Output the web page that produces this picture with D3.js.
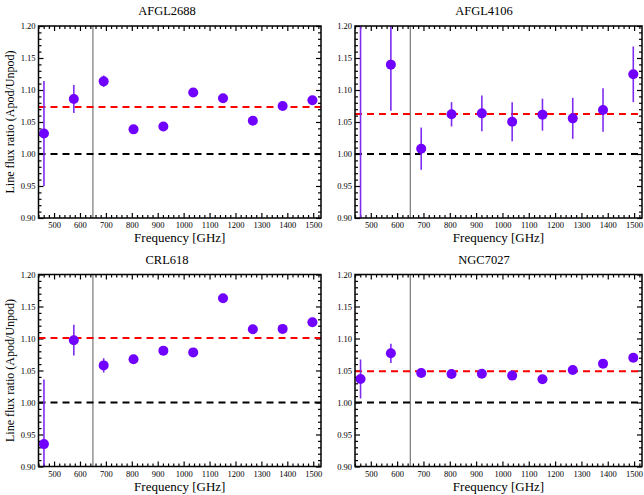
<!DOCTYPE html>
<html>
<head>
<meta charset="utf-8">
<script src="https://cdn.jsdelivr.net/npm/d3@7"></script>
<style>
  html, body { margin: 0; padding: 0; background: #fff; }
  svg { display: block; }
  text { font-family: "Liberation Serif", "Times New Roman", serif; fill: #000; }
</style>
</head>
<body>
<svg id="chart" width="644" height="495"></svg>
<script>
// ---- Data ----
const freqs = [461.04, 576.27, 691.47, 806.65, 921.80, 1036.91, 1151.99, 1267.01, 1381.99, 1496.92];
const sources = ["AFGL2688", "AFGL4106", "CRL618", "NGC7027"];

const afgl2688 = [1.032, 1.086, 1.1135, 1.0385, 1.043, 1.096, 1.087, 1.052, 1.075, 1.084];
const afgl2688Err = [0.082, 0.022, 0.009, 0.003, 0.003, 0.003, 0.003, 0.003, 0.003, 0.003];

const afgl4106 = [0.85, 1.1396, 1.0083, 1.062, 1.0635, 1.0505, 1.0615, 1.0557, 1.0688, 1.1245];
const afgl4106Err = [0.40, 0.072, 0.033, 0.019, 0.028, 0.0305, 0.025, 0.032, 0.034, 0.0435];

const crl618 = [0.935, 1.0973, 1.058, 1.0675, 1.081, 1.0783, 1.163, 1.1144, 1.115, 1.1254];
const crl618Err = [0.101, 0.024, 0.011, 0.003, 0.007, 0.003, 0.003, 0.003, 0.003, 0.003];

const ngc7027 = [1.0367, 1.0769, 1.0461, 1.0446, 1.045, 1.042, 1.0363, 1.0508, 1.0607, 1.070];
const ngc7027Err = [0.0305, 0.015, 0.003, 0.003, 0.003, 0.003, 0.003, 0.003, 0.003, 0.003];

const meanRatios = [1.0734, 1.0625, 1.1008, 1.0487];
const unityLine = 1.0;
const cutFreq = 650;

const xDomain = [440, 1530];
const yDomain = [0.90, 1.20];
const xTickValues = [500, 600, 700, 800, 900, 1000, 1100, 1200, 1300, 1400, 1500];
const yTickValues = [0.90, 0.95, 1.00, 1.05, 1.10, 1.15, 1.20];

const xLabel = "Frequency [GHz]";
const yLabel = "Line flux ratio (Apod/Unpod)";

// ---- Layout ----
const values = [afgl2688, afgl4106, crl618, ngc7027];
const errors = [afgl2688Err, afgl4106Err, crl618Err, ngc7027Err];
const panels = [
  { x0: 38.5, x1: 321, y0: 26, y1: 218, titleX: 167, ylab: true },
  { x0: 355, x1: 642, y0: 26, y1: 218, titleX: 484, ylab: false },
  { x0: 38.5, x1: 321, y0: 274.5, y1: 466.5, titleX: 167, ylab: true },
  { x0: 355, x1: 642, y0: 274.5, y1: 466.5, titleX: 484, ylab: false }
];

const svg = d3.select("#chart");
const markerColor = "#7000ff";
const errColor = "#7d2cf0";

panels.forEach((p, i) => {
  const x = d3.scaleLinear().domain(xDomain).range([p.x0, p.x1]);
  const y = d3.scaleLinear().domain(yDomain).range([p.y1, p.y0]);
  const g = svg.append("g");
  const clipId = "clip" + i;
  svg.append("clipPath").attr("id", clipId)
    .append("rect").attr("x", p.x0).attr("y", p.y0)
    .attr("width", p.x1 - p.x0).attr("height", p.y1 - p.y0);

  const minorX = d3.range(440, 1531, 20).filter(v => v % 100 !== 0);
  const minorY = d3.range(90, 121, 1).map(v => v / 100).filter(v => Math.round(v * 100) % 5 !== 0);

  const mk = (axisFn, scale, vals, size, fmt) => axisFn(scale).tickValues(vals).tickSizeInner(size).tickSizeOuter(0).tickFormat(fmt);
  const noLab = () => "";

  const gb = g.append("g").attr("transform", `translate(0,${p.y1})`);
  gb.call(mk(d3.axisBottom, x, xTickValues, -5, d3.format("d")).tickPadding(4));
  gb.append("g").call(mk(d3.axisBottom, x, minorX, -3, noLab));
  const gt = g.append("g").attr("transform", `translate(0,${p.y0})`);
  gt.call(mk(d3.axisTop, x, xTickValues, -5, noLab));
  gt.append("g").call(mk(d3.axisTop, x, minorX, -3, noLab));
  const gl = g.append("g").attr("transform", `translate(${p.x0},0)`);
  gl.call(mk(d3.axisLeft, y, yTickValues, -5, d3.format(".2f")).tickPadding(3));
  gl.append("g").call(mk(d3.axisLeft, y, minorY, -3, noLab));
  const gr = g.append("g").attr("transform", `translate(${p.x1},0)`);
  gr.call(mk(d3.axisRight, y, yTickValues, -5, noLab));
  gr.append("g").call(mk(d3.axisRight, y, minorY, -3, noLab));

  g.selectAll(".domain").remove();
  g.selectAll(".tick line").attr("stroke", "#000").attr("stroke-width", 1.2);
  g.selectAll(".tick text").style("font-family", "'Liberation Serif', serif").style("font-size", "8.5px").attr("fill", "#333");

  const plot = g.append("g").attr("clip-path", `url(#${clipId})`);

  plot.append("line")
    .attr("x1", x(cutFreq)).attr("x2", x(cutFreq))
    .attr("y1", p.y0).attr("y2", p.y1)
    .attr("stroke", "#777").attr("stroke-width", 1.2);

  plot.append("line")
    .attr("x1", p.x0).attr("x2", p.x1)
    .attr("y1", y(unityLine)).attr("y2", y(unityLine))
    .attr("stroke", "#000").attr("stroke-width", 2).attr("stroke-dasharray", "7,5");

  plot.append("line")
    .attr("x1", p.x0).attr("x2", p.x1)
    .attr("y1", y(meanRatios[i])).attr("y2", y(meanRatios[i]))
    .attr("stroke", "#ff0000").attr("stroke-width", 2).attr("stroke-dasharray", "7,5");

  const data = freqs.map((f, k) => ({ f, v: values[i][k], e: errors[i][k] }));

  plot.selectAll("line.err").data(data).enter().append("line")
    .attr("class", "err")
    .attr("x1", d => x(d.f)).attr("x2", d => x(d.f))
    .attr("y1", d => y(d.v - d.e)).attr("y2", d => y(d.v + d.e))
    .attr("stroke", errColor).attr("stroke-width", 1.6);

  plot.selectAll("circle").data(data).enter().append("circle")
    .attr("cx", d => x(d.f)).attr("cy", d => y(d.v)).attr("r", 5)
    .attr("fill", markerColor);

  g.append("rect").attr("x", p.x0).attr("y", p.y0)
    .attr("width", p.x1 - p.x0).attr("height", p.y1 - p.y0)
    .attr("fill", "none").attr("stroke", "#000").attr("stroke-width", 1.5);

  g.append("text").attr("x", p.titleX).attr("y", p.y0 - 11)
    .attr("text-anchor", "middle").style("font-size", "12.5px").text(sources[i]);

  g.append("text").attr("x", (p.x0 + p.x1) / 2).attr("y", p.y1 + 24)
    .attr("text-anchor", "middle").style("font-size", "13px").text(xLabel);

  if (p.ylab) {
    g.append("text")
      .attr("transform", `translate(14,${(p.y0 + p.y1) / 2}) rotate(-90)`)
      .attr("text-anchor", "middle").style("font-size", "12px").text(yLabel);
  }
});
</script>
</body>
</html>
